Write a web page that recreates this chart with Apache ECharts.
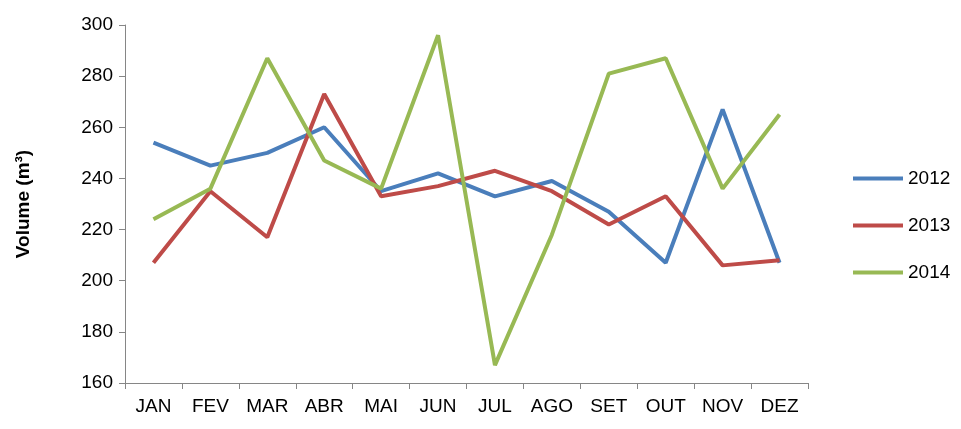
<!DOCTYPE html>
<html>
<head>
<meta charset="utf-8">
<script src="https://cdn.jsdelivr.net/npm/echarts@6/dist/echarts.min.js"></script>
<style>html,body{margin:0;padding:0;background:#fff}#main{width:961px;height:429px}</style>
</head>
<body>
<div id="main"></div>
<script>
var months = ['JAN','FEV','MAR','ABR','MAI','JUN','JUL','AGO','SET','OUT','NOV','DEZ'];
var v2012 = [254, 245, 250, 260, 235, 242, 233, 239, 227, 207, 267, 207];
var v2013 = [207, 235, 217, 273, 233, 237, 243, 235, 222, 233, 206, 208];
var v2014 = [224, 236, 287, 247, 236, 296, 167, 218, 281, 287, 236, 265];
var yTicks = {min: 160, max: 300, interval: 20};

var myChart = echarts.init(document.getElementById('main'));
var font = 'Liberation Sans';
function line(name, data, color) {
    return {name: name, type: 'line', data: data, symbol: 'none',
        lineStyle: {width: 4, color: color}, itemStyle: {color: color}};
}
var option = {
    animation: false,
    grid: {left: 125, right: 153, top: 25, bottom: 46},
    legend: {
        orient: 'vertical', left: 848, top: 164, itemGap: 28,
        itemWidth: 50, itemHeight: 4, icon: 'rect',
        textStyle: {fontFamily: font, fontSize: 19, color: '#000'},
        data: ['2012', '2013', '2014']
    },
    xAxis: {
        type: 'category', data: months, boundaryGap: true,
        axisLine: {lineStyle: {color: '#868686'}},
        axisTick: {show: true, length: 6, lineStyle: {color: '#868686'}},
        axisLabel: {fontFamily: font, fontSize: 19, color: '#000', margin: 14}
    },
    yAxis: {
        type: 'value', min: yTicks.min, max: yTicks.max, interval: yTicks.interval,
        name: 'Volume (m³)', nameLocation: 'middle', nameGap: 92,
        nameTextStyle: {fontFamily: font, fontSize: 19, fontWeight: 'bold', color: '#000'},
        axisLine: {show: true, lineStyle: {color: '#868686'}},
        axisTick: {show: true, length: 6, lineStyle: {color: '#868686'}},
        splitLine: {show: false},
        axisLabel: {fontFamily: font, fontSize: 19, color: '#000', margin: 12}
    },
    series: [
        line('2012', v2012, '#4A7EBB'),
        line('2013', v2013, '#BE4B48'),
        line('2014', v2014, '#98B954')
    ]
};
myChart.setOption(option);
</script>
</body>
</html>
